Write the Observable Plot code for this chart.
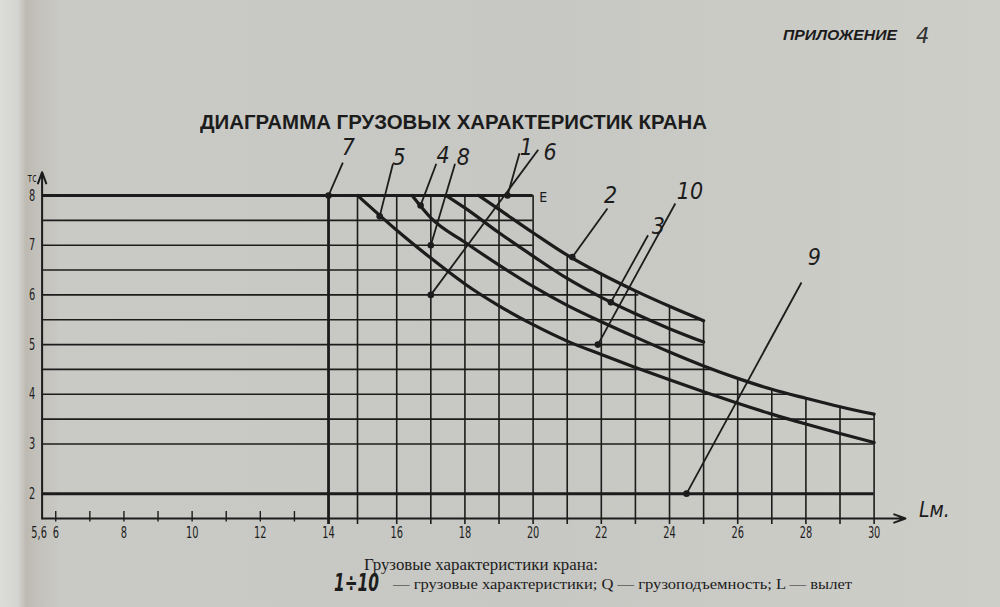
<!DOCTYPE html>
<html><head><meta charset="utf-8">
<script src="https://cdn.jsdelivr.net/npm/d3@7"></script>
<script src="https://cdn.jsdelivr.net/npm/@observablehq/plot@0.6"></script>
<style>
html,body{margin:0;padding:0;width:1000px;height:607px;overflow:hidden;}
body{position:relative;background:linear-gradient(to right,#dcdcd8 0px,#d4d4d0 18px,#bdbab2 26px,#c2c0ba 36px,#c9c9c5 60px,#c7c7c3 55%,#cecec9 100%);}
#chart{position:absolute;left:0;top:130px;}
.t{position:absolute;white-space:nowrap;color:#1c1c1c;display:inline-block;transform-origin:0 50%;}
</style></head>
<body>
<div id="chart"></div>
<span class="t" id="app" style="left:783px;top:27px;font:italic bold 14px/16px 'Liberation Sans','DejaVu Sans',sans-serif;">ПРИЛОЖЕНИЕ</span>
<span class="t" id="app4" style="left:916px;top:25px;font:italic 21px/22px 'DejaVu Sans',sans-serif;color:#333;">4</span>
<span class="t" id="title" style="left:200px;top:111px;font:bold 20px/22px 'Liberation Sans','DejaVu Sans',sans-serif;">ДИАГРАММА ГРУЗОВЫХ ХАРАКТЕРИСТИК КРАНА</span>
<span class="t" id="cap1" style="left:364px;top:556px;font:16px/18px 'Liberation Serif','DejaVu Serif',serif;">Грузовые характеристики крана:</span>
<span class="t" id="cap2a" style="left:334px;top:570px;font:italic bold 24px/26px 'DejaVu Sans',sans-serif;">1÷10</span>
<span class="t" id="cap2b" style="left:393px;top:575px;font:15px/18px 'Liberation Serif','DejaVu Serif',serif;">— грузовые характеристики; Q — грузоподъемность; L — вылет</span>
<script>
// ---- data (L = вылет, м; Q = грузоподъемность, тс) ----
const xTicks = [5.6, 6, 8, 10, 12, 14, 16, 18, 20, 22, 24, 26, 28, 30];
const xMinor = [6, 7, 8, 9, 10, 11, 12, 13];
const yTicks = [2, 3, 4, 5, 6, 7, 8];

const hLevels = [2, 3, 3.5, 4, 4.5, 5, 5.5, 6, 6.5, 7, 7.5, 8];
const hEnds   = [30, 30, 30, 27.6, 25.3, 25, 25, 23.1, 21.75, 20, 20, 20];

const vLines = [14, 14.85, 16, 17, 18, 19, 20, 21, 22, 23, 24, 25, 26, 27, 28, 29, 30];
const vTops  = [8, 8, 8, 8, 8, 8, 8, 6.8, 6.42, 6.08, 5.77, 5.48, 4.32, 4.1, 3.92, 3.75, 3.6];

const curveA_L = [18.4, 19, 20, 21, 22, 23, 24, 25];
const curveA_Q = [8, 7.72, 7.25, 6.8, 6.42, 6.08, 5.77, 5.48];
const curveB_L = [17.45, 18, 19, 20, 21, 22, 23, 24, 25];
const curveB_Q = [8, 7.75, 7.25, 6.78, 6.33, 5.95, 5.62, 5.32, 5.05];
const curveC_L = [16.45, 17, 18, 19, 20, 21, 22, 23, 24, 25, 26, 27, 28, 29, 30];
const curveC_Q = [8, 7.55, 7.06, 6.6, 6.17, 5.79, 5.46, 5.15, 4.85, 4.57, 4.32, 4.1, 3.92, 3.75, 3.6];
const curveD_L = [14.85, 15.5, 16, 17, 18, 19, 20, 21, 22, 23, 24, 25, 26, 27, 28, 29, 30];
const curveD_Q = [8, 7.6, 7.3, 6.74, 6.22, 5.78, 5.4, 5.07, 4.8, 4.54, 4.29, 4.05, 3.82, 3.6, 3.4, 3.21, 3.03];

const markNames = ["7", "5", "4", "8", "1", "6", "2", "3", "10", "9"];
const markL  = [14, 15.5, 16.7, 17, 19.25, 17, 21.15, 22.28, 21.9, 24.5];
const markQ  = [8, 7.58, 7.8, 7, 8, 6, 6.76, 5.85, 5, 2];
const leadL  = [14.42, 15.89, 17.16, 17.71, 19.6, 20.15, 22.18, 23.37, 24.17, 27.87];
const leadQ  = [8.66, 8.64, 8.64, 8.64, 8.85, 8.92, 7.74, 7.2, 7.84, 6.25];
const labL   = [14.58, 16.07, 17.36, 17.95, 19.8, 20.5, 22.27, 23.67, 24.6, 28.25];
const labQ   = [8.97, 8.76, 8.8, 8.76, 8.97, 8.87, 8.0, 7.38, 8.07, 6.74];

// ---- build ----
const ink = "#1c1c1c";
const curves = [["A", curveA_L, curveA_Q], ["B", curveB_L, curveB_Q], ["C", curveC_L, curveC_Q], ["D", curveD_L, curveD_Q]];
const curveRows = curves.flatMap(([id, L, Q]) => L.map((l, i) => ({id, L: l, Q: Q[i]})));
const hRows = hLevels.map((q, i) => ({q, end: hEnds[i]}));
const vRows = vLines.map((l, i) => ({l, top: vTops[i]}));
const mRows = markNames.map((n, i) => ({n, x: markL[i], y: markQ[i], lx: leadL[i], ly: leadQ[i], tx: labL[i], ty: labQ[i]}));
const x0 = xTicks[0], yMin = 1.5;
const axes = [
  {x1: x0, y1: yMin, x2: x0, y2: 8.47},
  {x1: x0, y1: yMin, x2: 30.92, y2: yMin}
];
const fmtX = d => d === 5.6 ? "5,6" : String(d);
const narrow = "'DejaVu Sans Condensed','Liberation Sans Narrow','DejaVu Sans',sans-serif";

const svg = Plot.plot({
  width: 1000, height: 430,
  marginTop: 0, marginBottom: 0, marginLeft: 0, marginRight: 0,
  x: {domain: [5.6, 30], range: [41.6, 873.6], axis: null},
  y: {domain: [yMin, 8], range: [388, 65], axis: null},
  style: {background: "transparent", color: ink, fontFamily: narrow, overflow: "visible"},
  marks: [
    Plot.ruleY(hRows.filter(d => d.q !== 2 && d.q !== 8), {y: "q", x1: x0, x2: "end", stroke: ink, strokeWidth: 1.6}),
    Plot.ruleY(hRows.filter(d => d.q === 2 || d.q === 8), {y: "q", x1: x0, x2: "end", stroke: ink, strokeWidth: 3}),
    Plot.ruleX(vRows.filter(d => d.l !== 14), {x: "l", y1: 1.38, y2: "top", stroke: ink, strokeWidth: 1.6}),
    Plot.ruleX(vRows.filter(d => d.l === 14), {x: "l", y1: 1.38, y2: "top", stroke: ink, strokeWidth: 2.8}),
    Plot.ruleX(xMinor, {x: d => d, y1: 1.43, y2: 1.64, stroke: ink, strokeWidth: 1.4}),
    Plot.arrow(axes, {x1: "x1", y1: "y1", x2: "x2", y2: "y2", stroke: ink, strokeWidth: 2, headLength: 9, headAngle: 40}),
    Plot.line(curveRows, {x: "L", y: "Q", z: "id", curve: "monotone-x", stroke: ink, strokeWidth: 3.2}),
    Plot.link(mRows, {x1: "x", y1: "y", x2: "lx", y2: "ly", stroke: ink, strokeWidth: 1.8}),
    Plot.dot(mRows, {x: "x", y: "y", r: 3.3, fill: ink}),
    Plot.text(mRows, {x: "tx", y: "ty", text: "n", fontSize: 23, fontStyle: "italic", fill: ink}),
    Plot.text(["E"], {x: 20.3, y: 7.96, text: d => d, fontSize: 14, fill: ink}),
    Plot.text(xTicks.slice(1), {x: d => d, y: yMin, dy: 14, text: fmtX, fontSize: 16, fill: ink, className: "tl"}),
    Plot.text(xTicks.slice(0, 1), {x: d => d, y: yMin, dy: 14, dx: -3, text: fmtX, fontSize: 16, fill: ink, className: "tl"}),
    Plot.text(yTicks, {x: x0, y: d => d, dx: -10, text: d => String(d), fontSize: 16, fill: ink, className: "tl"}),
    Plot.text(["тс"], {x: x0, y: 8.36, dx: -10, text: d => d, fontSize: 13, fill: ink, className: "tl"}),
    Plot.text(["Lм."], {x: 31.77, y: 1.66, text: d => d, fontSize: 21, fontStyle: "italic", fill: ink})
  ]
});
document.getElementById("chart").appendChild(svg);

// compress tick labels to the narrow print face
d3.select(svg).selectAll(".tl text").each(function () {
  const w = this.getComputedTextLength();
  this.setAttribute("textLength", w * 0.68);
  this.setAttribute("lengthAdjust", "spacingAndGlyphs");
});

function fit(id, w) {
  const el = document.getElementById(id);
  const r = el.getBoundingClientRect().width;
  el.style.transform = `scaleX(${w / r})`;
}
fit("app", 114); fit("title", 507); fit("cap1", 234); fit("cap2a", 45); fit("cap2b", 459);
</script>
</body></html>
